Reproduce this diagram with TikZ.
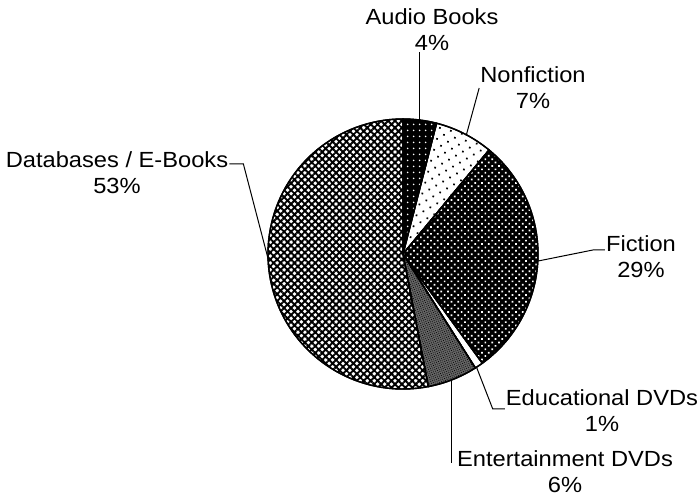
\documentclass[tikz,border=0pt]{standalone}
\usepackage{fontspec}
\setmainfont[FakeStretch=1.08]{Liberation Sans}
\usetikzlibrary{calc,patterns.meta}

\newcommand\rad{135}
\newcommand\slice[3]{\path[wedge,#3] (c) -- ++(#1:\rad) arc[start angle=#1,end angle=#2,radius=\rad] -- cycle;}

\begin{document}
\begin{tikzpicture}[x=1bp,y=1bp,
    lbl/.style={align=center,inner sep=1bp,font=\fontsize{22}{26}\selectfont},
    wedge/.style={draw=black,line width=1.4bp,line join=round},
    leader/.style={line width=1bp}]
  \useasboundingbox (0,0) rectangle (700,502);
  \coordinate (c) at (403,248);

  % slices, clockwise from the top
  \slice{90}{75.6}{preaction={fill=black},pattern={Dots[distance=6bp,radius=1bp]},pattern color=white}
  \slice{75.6}{50.4}{fill=white,postaction={pattern={Dots[distance=8bp,radius=1.2bp,angle=30]}}}
  \slice{50.4}{-54}{preaction={fill=black},pattern={Dots[distance=4.8bp,radius=1.2bp,angle=45]},pattern color=white}
  \slice{-54}{-57.6}{fill=white}
  \slice{-57.6}{-79.2}{preaction={fill=black!60},pattern={Dots[distance=2bp,radius=0.55bp,angle=20]}}
  \slice{-79.2}{-270}{fill=white,postaction={pattern={Hatch[angle=45,distance=4.9bp,line width=1.9bp]}}}
  % redraw the outlines above the patterns
  \foreach \a/\b in {90/75.6,75.6/50.4,50.4/-54,-54/-57.6,-57.6/-79.2,-79.2/-270}
    \draw[wedge] (c) -- ++(\a:\rad) arc[start angle=\a,end angle=\b,radius=\rad] -- cycle;

  % points on the rim
  \coordinate (e-aud) at ($(c)+(82.8:\rad)$);
  \coordinate (e-nf)  at ($(c)+(62:\rad)$);
  \coordinate (e-fi)  at ($(c)+(-3:\rad)$);
  \coordinate (e-ed)  at ($(c)+(-57:\rad)$);
  \coordinate (e-en)  at ($(c)+(-69:\rad)$);
  \coordinate (e-db)  at ($(c)+(182:\rad)$);

  % labels
  \node[lbl] (aud) at (432,472) {Audio Books\\4\%};
  \node[lbl] (nf)  at (533,414) {Nonfiction\\7\%};
  \node[lbl] (fi)  at (641,245) {Fiction\\29\%};
  \node[lbl] (db)  at (117,329) {Databases / E-Books\\53\%};
  \node[lbl] (ed)  at (602,91)  {Educational DVDs\\1\%};
  \node[lbl] (en)  at (565,30)  {Entertainment DVDs\\6\%};
  \coordinate (en-end) at ([yshift=9bp]en.west);

  % leaders
  \draw[leader] (e-aud) -- (e-aud |- aud.south);
  \draw[leader] (e-nf) -- (nf.west);
  \draw[leader] (e-fi) -- ([xshift=-12bp,yshift=7bp]fi.west) -- ([yshift=7bp]fi.west);
  \draw[leader] (e-db) -- ([xshift=14bp,yshift=9bp]db.east) -- ([yshift=9bp]db.east);
  \draw[leader] (e-ed) -- ([xshift=-12bp,yshift=2bp]ed.west) -- ([yshift=2bp]ed.west);
  \draw[leader] (e-en) -- (e-en |- en-end);
\end{tikzpicture}
\end{document}
